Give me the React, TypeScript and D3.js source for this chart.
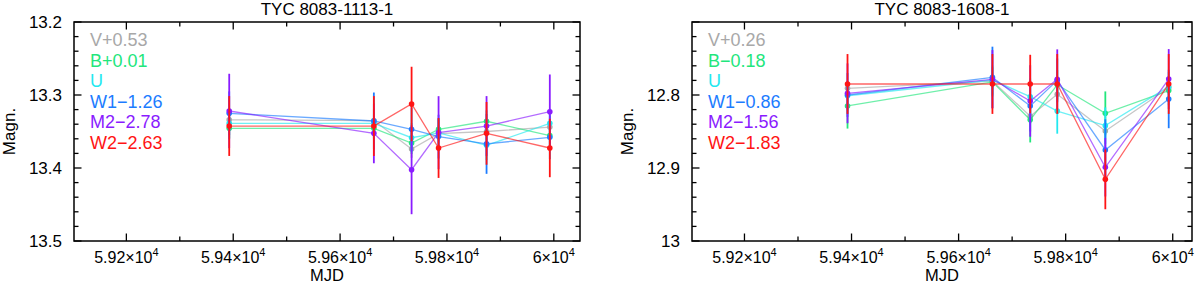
import { useEffect, useRef } from "react";

import * as d3 from "d3";

// Observation epochs (MJD)
const mjd = [59392.5, 59663.2, 59733.8, 59784.3, 59874.1, 59992.5];

const bandColors = ["#a8a8a8", "#22e67c", "#22e8f0", "#1c7cff", "#8a1cff", "#ff1414"];

// TYC 8083-1113-1 (already shifted by the legend offsets)
const leftTitle = "TYC 8083-1113-1";
const leftLabels = ["V+0.53", "B+0.01", "U", "W1\u22121.26", "M2\u22122.78", "W2\u22122.63"];
const leftV = [13.334, 13.335, 13.374, 13.353, 13.35, 13.344];
const leftB = [13.3456, 13.3456, 13.3658, 13.347, 13.336, 13.3557];
const leftU = [13.3388, 13.339, 13.3585, 13.352, 13.369, 13.3388];
const leftW1 = [13.3251, 13.3356, 13.347, 13.357, 13.367, 13.358];
const leftM2 = [13.3219, 13.3525, 13.4023, 13.3516, 13.3425, 13.3229];
const leftW2 = [13.3425, 13.3425, 13.3123, 13.3726, 13.3525, 13.3726];
const leftErrV = [0.01, 0.01, 0.012, 0.012, 0.012, 0.012];
const leftErrB = [0.015, 0.015, 0.015, 0.015, 0.015, 0.015];
const leftErrU = [0.02, 0.02, 0.02, 0.02, 0.02, 0.02];
const leftErrW1 = [0.03, 0.039, 0.03, 0.03, 0.041, 0.03];
const leftErrM2 = [0.051, 0.041, 0.061, 0.05, 0.041, 0.051];
const leftErrW2 = [0.041, 0.041, 0.051, 0.041, 0.043, 0.04];

// TYC 8083-1608-1
const rightTitle = "TYC 8083-1608-1";
const rightLabels = ["V+0.26", "B\u22120.18", "U", "W1\u22120.86", "M2\u22121.56", "W2\u22121.83"];
const rightV = [12.7909, 12.781, 12.829, 12.799, 12.8493, 12.79];
const rightB = [12.815, 12.782, 12.834, 12.786, 12.8251, 12.794];
const rightU = [12.801, 12.7795, 12.8023, 12.822, 12.842, 12.7886];
const rightW1 = [12.8, 12.7758, 12.815, 12.78, 12.8753, 12.8055];
const rightM2 = [12.7977, 12.7785, 12.8082, 12.7785, 12.899, 12.7781];
const rightW2 = [12.7849, 12.7849, 12.7849, 12.7849, 12.9155, 12.7849];
const rightErrV = [0.01, 0.01, 0.01, 0.01, 0.01, 0.01];
const rightErrB = [0.031, 0.02, 0.031, 0.02, 0.03, 0.02];
const rightErrU = [0.02, 0.02, 0.025, 0.031, 0.025, 0.02];
const rightErrW1 = [0.03, 0.042, 0.035, 0.03, 0.042, 0.04];
const rightErrM2 = [0.041, 0.04, 0.049, 0.041, 0.04, 0.041];
const rightErrW2 = [0.041, 0.041, 0.04, 0.041, 0.041, 0.041];

// tick values
const xMajor = [59200, 59400, 59600, 59800, 60000];
const xMantissa = ["5.92", "5.94", "5.96", "5.98", "6"];
const leftYTicks = [13.2, 13.3, 13.4, 13.5];
const rightYTicks = [12.8, 12.9, 13];

const font = "'Liberation Sans', Arial, Helvetica, sans-serif";

interface PanelSpec {
  title: string;
  labels: string[];
  values: number[][];
  errors: number[][];
  xDomain: [number, number];
  yDomain: [number, number];
  yTicks: number[];
  left: number;
  right: number;
}

const top = 22;
const bottom = 241;

function drawPanel(svg: d3.Selection<SVGSVGElement, unknown, null, undefined>, p: PanelSpec) {
  const x = d3.scaleLinear().domain(p.xDomain).range([p.left, p.right]);
  const y = d3.scaleLinear().domain(p.yDomain).range([top, bottom]);
  const g = svg.append("g");

  // series: lines, error bars, points
  p.values.forEach((vals, i) => {
    const color = bandColors[i];
    const pts = vals.map((v, j) => ({ x: mjd[j], y: v, e: p.errors[i][j] }));
    const line = d3
      .line<{ x: number; y: number }>()
      .x((d) => x(d.x))
      .y((d) => y(d.y));
    g.append("path")
      .datum(pts)
      .attr("fill", "none")
      .attr("stroke", color)
      .attr("stroke-opacity", 0.65)
      .attr("stroke-width", 1.3)
      .attr("d", line);
    g.selectAll(null)
      .data(pts)
      .enter()
      .append("line")
      .attr("x1", (d) => x(d.x))
      .attr("x2", (d) => x(d.x))
      .attr("y1", (d) => y(d.y - d.e))
      .attr("y2", (d) => y(d.y + d.e))
      .attr("stroke", color)
      .attr("stroke-width", 1.8);
    g.selectAll(null)
      .data(pts)
      .enter()
      .append("circle")
      .attr("cx", (d) => x(d.x))
      .attr("cy", (d) => y(d.y))
      .attr("r", 2.8)
      .attr("fill", color);
  });

  // frame
  g.append("rect")
    .attr("x", p.left)
    .attr("y", top)
    .attr("width", p.right - p.left)
    .attr("height", bottom - top)
    .attr("fill", "none")
    .attr("stroke", "#000")
    .attr("stroke-width", 1.5);

  // x ticks (inside, top and bottom)
  const xMinor = d3.range(59300, 60001, 200).filter((v) => v < p.xDomain[1]);
  const xt = (vals: number[], len: number) =>
    vals.forEach((v) => {
      g.append("line")
        .attr("x1", x(v)).attr("x2", x(v))
        .attr("y1", bottom).attr("y2", bottom - len)
        .attr("stroke", "#000").attr("stroke-width", 1.3);
      g.append("line")
        .attr("x1", x(v)).attr("x2", x(v))
        .attr("y1", top).attr("y2", top + len)
        .attr("stroke", "#000").attr("stroke-width", 1.3);
    });
  xt(xMajor, 7.5);
  xt(xMinor, 4.5);

  // y ticks (inside, left and right)
  const [y0, y1] = p.yDomain;
  const yMajor = d3.range(Math.round(y0 * 10), Math.round(y1 * 10) + 1).map((v) => v / 10);
  const yMinor = d3
    .range(Math.round(y0 * 50), Math.round(y1 * 50) + 1)
    .filter((v) => v % 5 !== 0)
    .map((v) => v / 50);
  const yt = (vals: number[], len: number) =>
    vals.forEach((v) => {
      g.append("line")
        .attr("x1", p.left).attr("x2", p.left + len)
        .attr("y1", y(v)).attr("y2", y(v))
        .attr("stroke", "#000").attr("stroke-width", 1.3);
      g.append("line")
        .attr("x1", p.right).attr("x2", p.right - len)
        .attr("y1", y(v)).attr("y2", y(v))
        .attr("stroke", "#000").attr("stroke-width", 1.3);
    });
  yt(yMajor, 7.5);
  yt(yMinor, 4.5);

  // y tick labels
  p.yTicks.forEach((v) => {
    g.append("text")
      .attr("x", p.left - 12)
      .attr("y", y(v) + 6)
      .attr("text-anchor", "end")
      .attr("font-size", 17)
      .text(String(v));
  });

  // x tick labels with superscript exponent
  xMajor.forEach((v, i) => {
    const t = g
      .append("text")
      .attr("x", x(v))
      .attr("y", 263)
      .attr("text-anchor", "middle")
      .attr("font-size", 16);
    t.append("tspan").text(`${xMantissa[i]}\u00d710`);
    t.append("tspan").attr("dy", -7).attr("font-size", 11).text("4");
  });

  const cx = (p.left + p.right) / 2;
  g.append("text")
    .attr("x", cx)
    .attr("y", 15)
    .attr("text-anchor", "middle")
    .attr("font-size", 17)
    .text(p.title);
  g.append("text")
    .attr("x", cx)
    .attr("y", 281)
    .attr("text-anchor", "middle")
    .attr("font-size", 16.5)
    .text("MJD");
  g.append("text")
    .attr("transform", `translate(${p.left - 59},${(top + bottom) / 2}) rotate(-90)`)
    .attr("text-anchor", "middle")
    .attr("font-size", 17)
    .text("Magn.");

  // legend
  p.labels.forEach((lab, i) => {
    g.append("text")
      .attr("x", p.left + 16)
      .attr("y", 46 + i * 20.5)
      .attr("font-size", 18)
      .attr("fill", bandColors[i])
      .text(lab);
  });
}

export default function App() {
  const svgRef = useRef<SVGSVGElement | null>(null);

  useEffect(() => {
    document.body.style.margin = "0";
    if (!svgRef.current) return;
    const svg = d3.select(svgRef.current);
    svg.selectAll("*").remove();

    drawPanel(svg, {
      title: leftTitle,
      labels: leftLabels,
      values: [leftV, leftB, leftU, leftW1, leftM2, leftW2],
      errors: [leftErrV, leftErrB, leftErrU, leftErrW1, leftErrM2, leftErrW2],
      xDomain: [59102, 60049],
      yDomain: [13.2, 13.5],
      yTicks: leftYTicks,
      left: 74,
      right: 580,
    });
    drawPanel(svg, {
      title: rightTitle,
      labels: rightLabels,
      values: [rightV, rightB, rightU, rightW1, rightM2, rightW2],
      errors: [rightErrV, rightErrB, rightErrU, rightErrW1, rightErrM2, rightErrW2],
      xDomain: [59102, 60036],
      yDomain: [12.7, 13.0],
      yTicks: rightYTicks,
      left: 692,
      right: 1192,
    });
  }, []);

  return (
    <svg
      ref={svgRef}
      width={1200}
      height={286}
      style={{ display: "block", fontFamily: font, background: "#fff" }}
    ></svg>
  );
}
